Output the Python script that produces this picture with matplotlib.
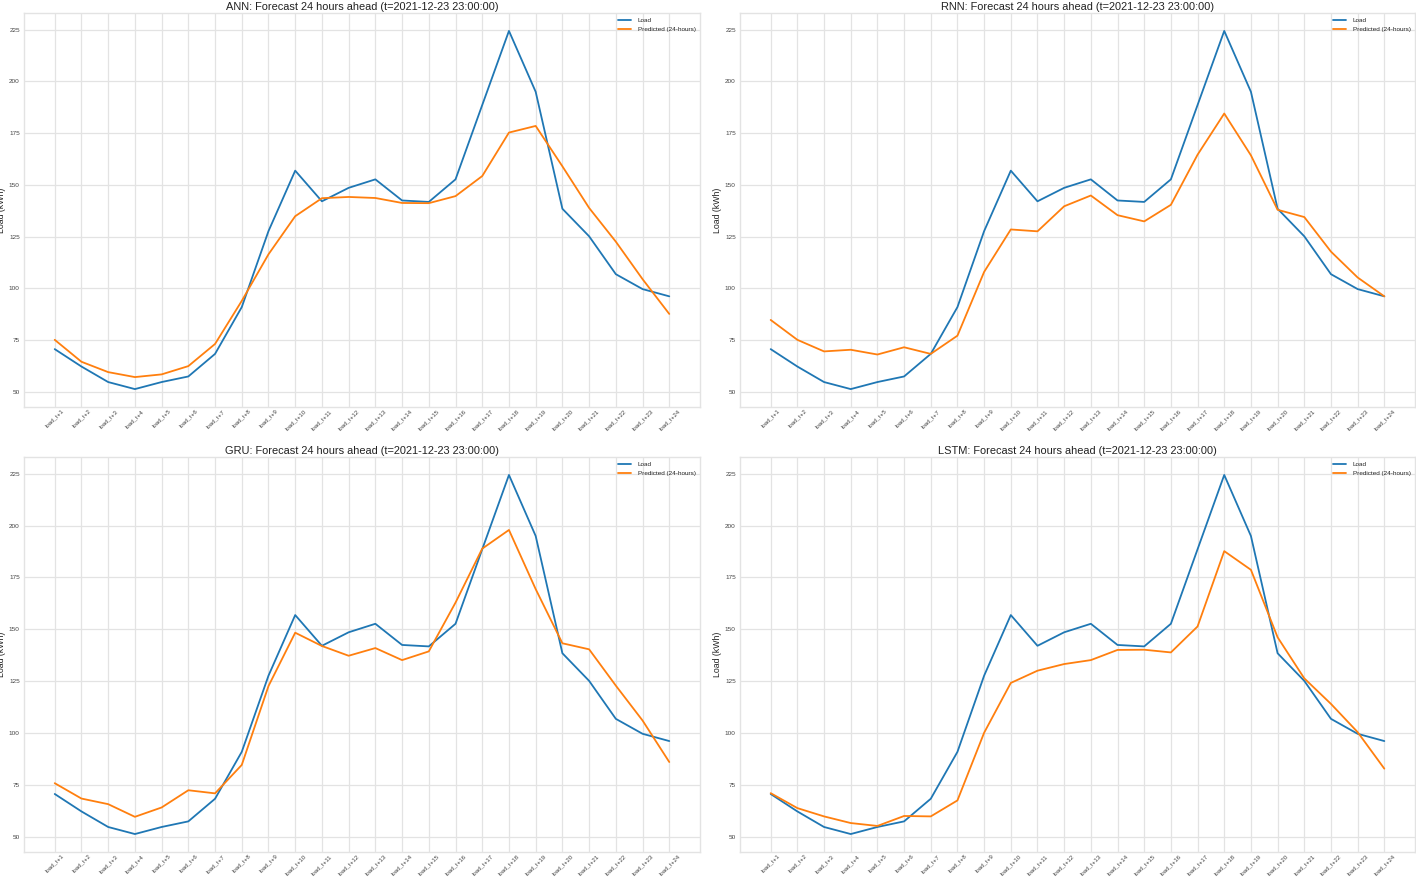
import matplotlib
matplotlib.use("Agg")
import matplotlib.pyplot as plt

plt.style.use("seaborn-v0_8-whitegrid")
plt.rcParams["font.family"] = ["Liberation Sans", "DejaVu Sans"]

steps = [f"load_t+{i}" for i in range(1, 25)]
timestamp = "2021-12-23 23:00:00"

load = [70.7, 62.3, 54.8, 51.4, 54.8, 57.5, 68.4, 91.0, 127.7, 156.9, 142.1, 148.6,
        152.7, 142.5, 141.8, 152.7, 188.6, 224.4, 195.0, 138.5, 125.2, 106.9, 99.7, 96.2]

pred_ann = [75.2, 64.6, 59.6, 57.2, 58.5, 62.5, 73.2, 94.0, 116.5, 134.9, 143.6, 144.2,
            143.7, 141.3, 141.2, 144.6, 154.3, 175.3, 178.5, 159.0, 138.9, 122.6, 104.5, 87.7]
pred_rnn = [84.8, 75.2, 69.6, 70.4, 68.1, 71.6, 68.4, 77.2, 108.0, 128.5, 127.6, 139.7,
            144.9, 135.4, 132.4, 140.4, 164.6, 184.5, 164.3, 138.0, 134.5, 117.8, 105.3, 96.2]
pred_gru = [75.9, 68.5, 65.8, 59.7, 64.2, 72.5, 71.0, 84.7, 122.7, 148.4, 142.0, 137.3,
            141.0, 135.2, 139.4, 162.9, 188.9, 197.9, 169.4, 143.3, 140.4, 122.9, 106.1, 86.1]
pred_lstm = [71.1, 63.9, 59.9, 56.7, 55.3, 60.1, 59.9, 67.6, 100.2, 124.2, 130.1, 133.3,
             135.2, 140.1, 140.2, 138.9, 151.4, 187.7, 178.7, 146.2, 126.4, 114.1, 100.5, 82.9]

models = ["ANN", "RNN", "GRU", "LSTM"]
preds = [pred_ann, pred_rnn, pred_gru, pred_lstm]

W, H = 1416, 877
fig = plt.figure(figsize=(W / 100, H / 100), dpi=100)

# [left, top, width, height] in pixels
boxes = [
    (24, 13, 676, 394),
    (740, 13, 675, 394),
    (24, 457, 676, 395),
    (740, 457, 675, 395),
]

grid_c = "#e3e3e3"
for name, pred, (x0, y0, w, h) in zip(models, preds, boxes):
    ax = fig.add_axes([x0 / W, 1 - (y0 + h) / H, w / W, h / H])
    x = list(range(len(steps)))
    ax.plot(x, load, color="#1f77b4", lw=1.3, label="Load")
    ax.plot(x, pred, color="#ff7f0e", lw=1.3, label="Predicted (24-hours)")
    ax.set_xticks(x)
    ax.set_xticklabels(steps, rotation=45, fontsize=4.4, color="#444444")
    ax.set_yticks([50, 75, 100, 125, 150, 175, 200, 225])
    ax.tick_params(axis="y", labelsize=4.6, labelcolor="#444444", pad=3)
    ax.tick_params(axis="x", pad=1)
    ax.grid(True, color=grid_c, lw=0.9)
    ax.set_title(f"{name}: Forecast 24 hours ahead (t={timestamp})", fontsize=7.9, pad=2.5,
                 color="#222222")
    ax.set_ylabel("Load (kWh)", fontsize=6.3, color="#222222")
    ax.yaxis.set_label_coords(-17.5 / w, 0.5)
    ax.legend(loc="upper right", fontsize=4.6, frameon=False, handlelength=2.0,
              borderaxespad=0.3, labelspacing=0.6, handletextpad=1.0)
    for s in ax.spines.values():
        s.set_color(grid_c)

fig.savefig("out.png", dpi=100)
